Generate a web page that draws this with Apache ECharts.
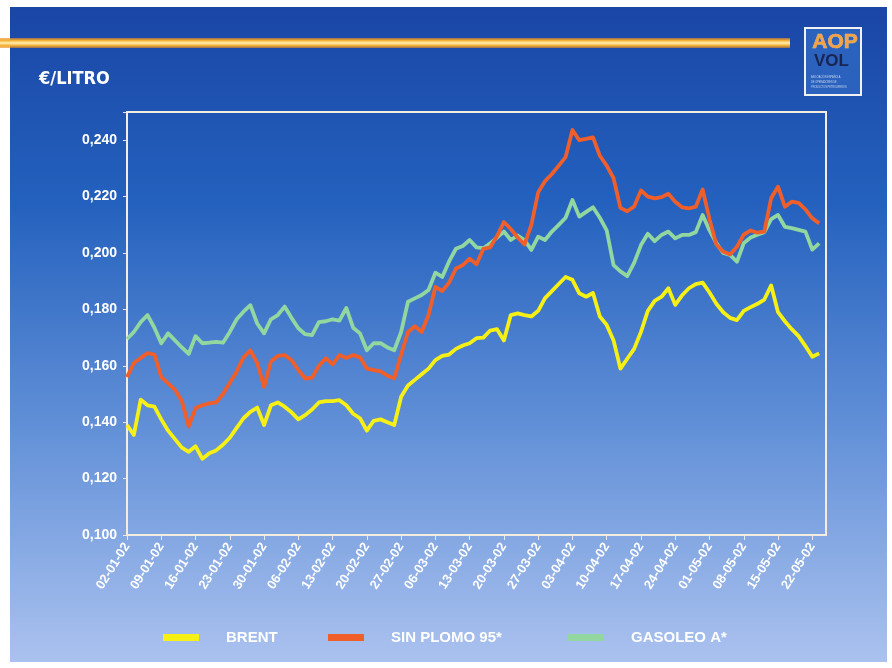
<!DOCTYPE html>
<html>
<head>
<meta charset="utf-8">
<script src="https://cdn.jsdelivr.net/npm/echarts@6/dist/echarts.min.js"></script>
<style>
html,body{margin:0;padding:0;background:#ffffff;}
#c{width:892px;height:668px;}
</style>
</head>
<body>
<div id="c"></div>
<script>
// ---- DATA (€/litro, business days from 02-01-02) ----
const brent = [
0.139,0.1355,0.148,0.146,0.1455,0.141,0.137,0.134,0.131,0.1295,
0.1315,0.127,0.129,0.130,0.132,0.1345,0.138,0.1414,0.1437,0.1452,
0.139,0.146,0.147,0.1455,0.1435,0.141,0.1425,0.1445,0.147,0.1475,
0.1475,0.1478,0.146,0.143,0.1414,0.137,0.1405,0.141,0.140,0.139,
0.149,0.153,0.155,0.157,0.159,0.162,0.1635,0.164,0.166,0.1672,
0.168,0.1698,0.170,0.1725,0.173,0.169,0.178,0.1786,0.178,0.1775,
0.1795,0.184,0.1865,0.189,0.1915,0.1905,0.1857,0.1845,0.1858,0.1775,
0.1745,0.169,0.159,0.1625,0.166,0.172,0.1795,0.183,0.1845,0.1875,
0.1816,0.185,0.1875,0.189,0.1895,0.186,0.182,0.179,0.177,0.1762,
0.1795,0.1808,0.182,0.1835,0.1885,0.179,0.1758,0.173,0.1705,0.167,
0.1632,0.1644
];
const sinPlomo95 = [
0.156,0.161,0.1628,0.1645,0.164,0.156,0.1538,0.1515,0.1475,0.1385,
0.145,0.146,0.1467,0.147,0.150,0.154,0.158,0.163,0.1655,0.161,
0.1525,0.1615,0.1635,0.1638,0.162,0.1585,0.1555,0.1558,0.160,0.1627,
0.1605,0.1638,0.1628,0.1638,0.163,0.159,0.1585,0.158,0.1565,0.1556,
0.164,0.172,0.174,0.172,0.178,0.188,0.1865,0.1895,0.1945,0.1957,
0.198,0.196,0.2015,0.202,0.206,0.211,0.2085,0.2055,0.203,0.210,
0.2215,0.2255,0.228,0.231,0.234,0.2436,0.240,0.2405,0.241,0.2345,
0.231,0.2265,0.216,0.2148,0.2165,0.2222,0.220,0.2194,0.2198,0.221,
0.2182,0.2162,0.2158,0.2164,0.2225,0.212,0.203,0.2005,0.1995,0.2022,
0.2065,0.208,0.2072,0.2076,0.2195,0.2235,0.2164,0.2182,0.2178,0.2155,
0.2123,0.2105
];
const gasoleoA = [
0.1695,0.172,0.1755,0.178,0.1735,0.168,0.1715,0.169,0.1665,0.1642,
0.1705,0.168,0.1682,0.1685,0.1682,0.172,0.1765,0.1792,0.1815,0.175,
0.1715,0.1765,0.178,0.181,0.177,0.1733,0.1712,0.1709,0.1755,0.1758,
0.1765,0.176,0.1805,0.1735,0.1715,0.1655,0.168,0.168,0.1665,0.1655,
0.172,0.1827,0.1839,0.1851,0.1869,0.193,0.1915,0.197,0.2015,0.2025,
0.2046,0.202,0.2017,0.2034,0.2055,0.2076,0.2046,0.2062,0.2046,0.2011,
0.2058,0.2046,0.2076,0.210,0.2125,0.2188,0.2129,0.2146,0.2162,0.2125,
0.208,0.1957,0.1935,0.1918,0.1965,0.2028,0.2068,0.2042,0.2064,0.2076,
0.2052,0.2064,0.2064,0.2074,0.2135,0.208,0.2035,0.2,0.1993,0.1969,
0.2035,0.2055,0.2065,0.2074,0.212,0.2135,0.2093,0.2088,0.2082,0.2076,
0.2012,0.2034
];
const seriesNames = ['BRENT', 'SIN PLOMO 95*', 'GASOLEO A*'];
const seriesColors = ['#f6f015', '#f05e2a', '#92d6a0'];
const yMin = 0.100, yMax = 0.250, yStep = 0.020;
const titleText = '€/LITRO';

// categories: business days starting 02-01-02 (103 slots on the axis)
const categories = [];
(function () {
  const d = new Date(Date.UTC(2002, 0, 2));
  const p = n => (n < 10 ? '0' : '') + n;
  while (categories.length < 103) {
    const wd = d.getUTCDay();
    if (wd !== 0 && wd !== 6) {
      categories.push(p(d.getUTCDate()) + '-' + p(d.getUTCMonth() + 1) + '-' + p(d.getUTCFullYear() % 100));
    }
    d.setUTCDate(d.getUTCDate() + 1);
  }
})();

const chart = echarts.init(document.getElementById('c'), null, {renderer: 'canvas'});
const font = "'Liberation Sans', Arial, sans-serif";
const frameColor = '#f3ecdf';
const seriesData = [brent, sinPlomo95, gasoleoA];
const legendLeft = [158, 323, 563];

chart.setOption({
  animation: false,
  backgroundColor: 'transparent',
  graphic: [
    { type: 'rect', z: -10, shape: {x: 10, y: 7, width: 877, height: 655},
      style: { fill: new echarts.graphic.LinearGradient(0, 0, 0, 1, [
        {offset: 0, color: '#1a46a6'}, {offset: 0.3, color: '#2461be'},
        {offset: 0.65, color: '#6391d8'}, {offset: 1, color: '#abc2ef'}]) } },
    { type: 'rect', z: -5, shape: {x: 0, y: 38, width: 790, height: 10},
      style: { fill: new echarts.graphic.LinearGradient(0, 0, 0, 1, [
        {offset: 0, color: 'rgba(232,140,20,0.6)'}, {offset: 0.25, color: '#f5b03a'},
        {offset: 0.5, color: '#fff0b0'}, {offset: 0.75, color: '#f5b03a'},
        {offset: 1, color: 'rgba(232,140,20,0.6)'}]) } },
    { type: 'rect', z: -5, shape: {x: 805, y: 28, width: 56, height: 67},
      style: { fill: '#2b62bd', stroke: '#f2f2f2', lineWidth: 2 } },
    { type: 'text', z: -4, left: 812, top: 31,
      style: { text: 'AOP', fill: '#f6a443', stroke: '#f2c48a', lineWidth: 0.6, font: "bold 21px 'Liberation Sans Narrow','Liberation Sans',sans-serif" } },
    { type: 'text', z: -4, left: 814, top: 53,
      style: { text: 'VOL', fill: '#1b2350', font: "bold 17px 'Liberation Sans',sans-serif" } },
    { type: 'text', z: -4, left: 811, top: 74, scaleX: 0.62,
      style: { text: 'ASOCIACIÓN ESPAÑOLA\nDE OPERADORES DE\nPRODUCTOS PETROLÍFEROS', fill: '#c9d8f2', font: "4px 'Liberation Sans',sans-serif", lineHeight: 5 } }
  ],
  title: {
    text: titleText, left: 34, top: 65,
    textStyle: {color: '#ffffff', fontSize: 18, fontWeight: 'bold', fontFamily: "'Liberation Sans Narrow','DejaVu Sans Condensed','Liberation Sans',sans-serif"}
  },
  legend: seriesNames.map((n, i) => ({
    data: [n], left: legendLeft[i], top: 625, icon: 'rect',
    itemWidth: 36, itemHeight: 7, selectedMode: false,
    textStyle: {color: '#ffffff', fontSize: 15, fontWeight: 'bold', fontFamily: font, padding: [0, 0, 0, 22]}
  })),
  grid: {left: 127, right: 66, top: 112, bottom: 133, show: true, borderColor: frameColor, borderWidth: 2},
  xAxis: {
    type: 'category', data: categories, boundaryGap: false,
    axisLine: {show: true, lineStyle: {color: frameColor, width: 2}},
    axisTick: {show: true, interval: 4, length: 5, inside: false, lineStyle: {color: '#e6e9f4'}},
    axisLabel: {interval: 4, rotate: 58, color: '#ffffff', fontSize: 13, fontWeight: 'bold', fontFamily: font, margin: 9},
    splitLine: {show: false}
  },
  yAxis: {
    type: 'value', min: yMin, max: yMax, interval: yStep,
    axisLine: {show: true, lineStyle: {color: frameColor, width: 2}},
    axisTick: {show: true, length: 4, lineStyle: {color: '#e6e9f4'}},
    axisLabel: {color: '#ffffff', fontSize: 14, fontWeight: 'bold', fontFamily: font, margin: 10,
      formatter: v => (v > yMax - 0.005 ? '' : v.toFixed(3).replace('.', ','))},
    splitLine: {show: false}
  },
  series: seriesNames.map((n, i) => ({
    name: n, type: 'line', data: seriesData[i], showSymbol: false, symbol: 'none',
    smooth: false, color: seriesColors[i],
    lineStyle: {color: seriesColors[i], width: 3.8, join: 'round'},
    emphasis: {disabled: true}, z: 3 - i
  }))
});
</script>
</body>
</html>
